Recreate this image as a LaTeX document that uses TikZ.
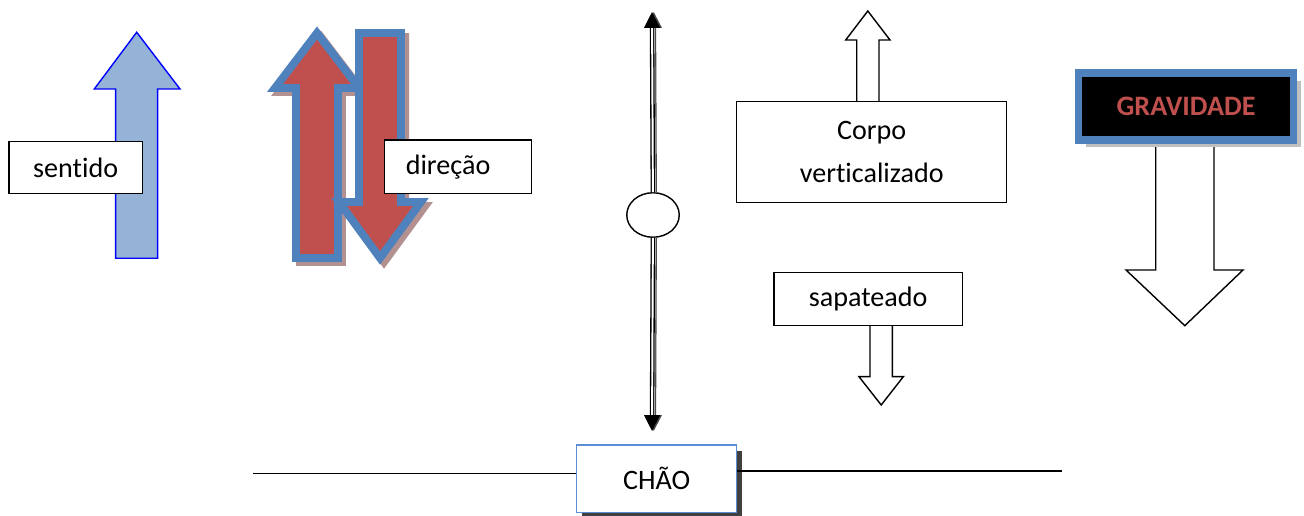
\documentclass[tikz,border=0pt]{standalone}
\usepackage{fontspec}
\setmainfont{Carlito}[Ligatures=NoCommon]
\usetikzlibrary{arrows.meta,shapes.geometric,shadows}

\definecolor{skyfill}{RGB}{149,179,215}
\definecolor{brickred}{RGB}{192,80,77}
\definecolor{edgeblue}{RGB}{79,129,189}
\definecolor{floorblue}{RGB}{91,143,213}
\definecolor{rosyshade}{RGB}{180,145,145}

\begin{document}
\begin{tikzpicture}[
  x=0.02cm, y=-0.02cm,
  font=\fontsize{16}{24}\selectfont,
  box/.style={
    draw=black,
    fill=white,
    line width=0.8pt,
    align=center,
    inner sep=0pt
  },
  hollow/.style={draw=black, fill=white, line width=0.8pt},
  redarrow/.style={
    draw=edgeblue, fill=brickred, line width=4.5pt,
    preaction={draw=rosyshade, fill=rosyshade, line width=4.5pt,
      transform canvas={xshift=2.3pt, yshift=-2.3pt}}
  },
  axis/.style={double=white, double distance=1.1pt, line width=0.75pt,
    -{Triangle[length=9pt, width=9pt]}}
]

\useasboundingbox (0,0) rectangle (1304,516);

\draw[draw=blue, fill=skyfill, line width=0.8pt]
  (115.7,258.3) -- (115.7,89) -- (94.3,89) -- (136.7,32.3) -- (180,89)
  -- (157.7,89) -- (157.7,258.3) -- cycle;
\node[box, minimum width=2.67cm, minimum height=1.03cm] (sentido) at (75.7,167.5) {sentido};

\draw[redarrow] (296,258) -- (296,88) -- (275,88) -- (317,33) -- (359,88)
  -- (338,88) -- (338,258) -- cycle;
\draw[redarrow] (359,33) -- (401,33) -- (401,202) -- (421,202) -- (380,258)
  -- (339,202) -- (359,202) -- cycle;
\node[box, align=left, text width=2.09cm, inner xsep=0.43cm, minimum height=1.07cm]
  (direcao) at (458,166.7) {direção};

\node[draw=black, fill=white, line width=0.8pt, ellipse, inner sep=0pt,
  minimum width=1.05cm, minimum height=0.89cm] (ball) at (653,215) {};
\coordinate (axtop) at (652,12);
\coordinate (axbot) at (652,431);
\draw[axis, black!70, transform canvas={xshift=1pt}] (ball) -- (axtop);
\draw[axis, black!70, transform canvas={xshift=1pt}] (ball) -- (axbot);
\draw[axis] (ball) -- (axtop);
\draw[axis] (ball) -- (axbot);

\draw[hollow] (856.7,102) -- (856.7,40) -- (845.7,40) -- (867.8,11) -- (890,40)
  -- (879,40) -- (879,102);
\node[box, minimum width=5.4cm, minimum height=2.01cm] (corpo) at (871.7,152) {Corpo\\verticalizado};

\draw[hollow] (870,325) -- (870,376.7) -- (859,376.7) -- (881.2,405) -- (903.3,376.7)
  -- (892.3,376.7) -- (892.3,325);
\node[box, minimum width=3.77cm, minimum height=1.06cm] (sapateado) at (868.2,299.2) {sapateado};

\draw[hollow] (1155.7,140) -- (1155.7,270) -- (1126,270) -- (1184.8,325.7) -- (1243,270)
  -- (1214,270) -- (1214,140);
\node[draw=edgeblue, fill=black, line width=4.5pt, inner sep=0pt,
  minimum width=4.3cm, minimum height=1.34cm, text=brickred, font=\fontsize{16}{20}\selectfont\bfseries,
  drop shadow={shadow xshift=4.5pt, shadow yshift=-4.5pt, fill=black!25, opacity=1}]
  (gravidade) at (1186,106.1) {GRAVIDADE};

\node[draw=floorblue, fill=white, line width=0.8pt, inner sep=0pt,
  minimum width=3.2cm, minimum height=1.35cm,
  drop shadow={shadow xshift=3.2pt, shadow yshift=-3.2pt, fill=black!75, opacity=1}]
  (chao) at (656.7,478.9) {CHÃO};
\coordinate (gl) at (253,473.5);
\coordinate (gr) at (1062,471);
\draw[line width=0.8pt] (gl) -- (gl -| chao.west);
\draw[line width=0.8pt] (chao.east |- gr) -- (gr);

\end{tikzpicture}
\end{document}
